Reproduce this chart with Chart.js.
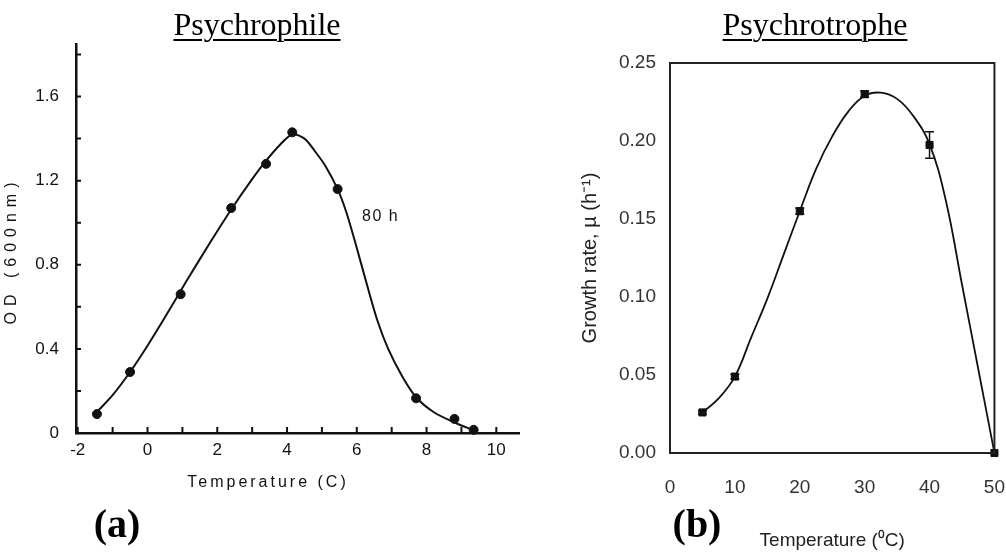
<!DOCTYPE html>
<html>
<head>
<meta charset="utf-8">
<script src="https://cdn.jsdelivr.net/npm/chart.js@4.4.1/dist/chart.umd.min.js"></script>
<style>
  body { margin: 0; background: #fff; width: 1006px; height: 552px; position: relative; overflow: hidden; }
  .panel { position: absolute; top: 0; height: 552px; }
  #leftPanel { left: 0; width: 525px; }
  #rightPanel { left: 500px; width: 528px; }
  .title { position: absolute; top: 8px; font: 32px "Liberation Serif", "Times New Roman", serif; line-height: 32px;
           text-decoration: underline; text-decoration-thickness: 2px; text-underline-offset: 4px;
           transform: translateX(-50%); white-space: nowrap; color: #000; }
  .tag { position: absolute; top: 504px; font: bold 40px "Liberation Serif", "Times New Roman", serif; line-height: 40px;
         transform: translateX(-50%); white-space: nowrap; color: #000; }
</style>
</head>
<body>
<div class="panel" id="leftPanel"><canvas id="leftChart"></canvas></div>
<div class="panel" id="rightPanel"><canvas id="rightChart"></canvas></div>
<div class="title" style="left:257px">Psychrophile</div>
<div class="title" style="left:815px">Psychrotrophe</div>
<div class="tag" style="left:117px">(a)</div>
<div class="tag" style="left:697px">(b)</div>

<script>
// (a) psychrophile, OD after 80 h
const leftTempPoints = [-1.45, -0.5, 0.95, 2.4, 3.4, 4.15, 5.45, 7.7, 8.8, 9.35];
const leftODPoints = [0.09, 0.29, 0.66, 1.07, 1.28, 1.43, 1.16, 0.165, 0.067, 0.015];
const leftCurveTemp = [-1.45, -1.0, -0.5, 0, 0.5, 1.1, 1.8, 2.4, 3.0, 3.4, 3.8, 4.15, 4.5, 4.8, 5.1, 5.45, 5.7, 6.0, 6.3, 6.6, 6.9, 7.3, 7.7, 8.2, 8.8, 9.4];
const leftCurveOD = [0.10, 0.18, 0.29, 0.415, 0.55, 0.718, 0.907, 1.063, 1.207, 1.295, 1.371, 1.42, 1.40, 1.34, 1.27, 1.16, 1.05, 0.88, 0.70, 0.53, 0.40, 0.27, 0.17, 0.10, 0.05, 0.01];

// (b) psychrotroph, growth rate
const rightTempPoints = [5, 10, 20, 30, 40, 50];
const rightRatePoints = [0.026, 0.049, 0.155, 0.230, 0.1975, 0.0];
const rightRateErr = [0.001, 0.0015, 0.002, 0.002, 0.0085, 0];
const rightCurveTemp = [5, 7.5, 10, 12.5, 15, 17.5, 20, 22.5, 25, 27.5, 30, 32.5, 35, 37.5, 40, 42.5, 45, 47.5, 50];
const rightCurveRate = [0.026, 0.035, 0.049, 0.074, 0.099, 0.127, 0.155, 0.182, 0.203, 0.219, 0.229, 0.231, 0.227, 0.216, 0.198, 0.162, 0.108, 0.054, 0.0];

const ink = "#111";
const sans = "'Liberation Sans', Arial, sans-serif";

function pairs(xs, ys) {
    return xs.map(function (x, i) {
        return { x: x, y: ys[i] };
    });
}

// short tick marks pointing into the plot, taken from the scale ticks
const innerTicks = {
    id: "innerTicks",
    afterDraw: function (chart) {
        var ctx = chart.ctx, area = chart.chartArea;
        var x = chart.scales.x, y = chart.scales.y;
        ctx.save();
        ctx.strokeStyle = ink;
        ctx.lineWidth = 2;
        ctx.beginPath();
        x.ticks.forEach(function (t) {
            var px = x.getPixelForValue(t.value);
            ctx.moveTo(px, area.bottom);
            ctx.lineTo(px, area.bottom - 6);
        });
        y.ticks.forEach(function (t) {
            var py = y.getPixelForValue(t.value);
            ctx.moveTo(area.left, py);
            ctx.lineTo(area.left + 5, py);
        });
        ctx.stroke();
        ctx.restore();
    },
};

// spaced-out axis titles and the "80 h" note of panel (a)
const leftText = {
    id: "leftText",
    afterDraw: function (chart) {
        var ctx = chart.ctx, area = chart.chartArea;
        var x = chart.scales.x, y = chart.scales.y;
        ctx.save();
        ctx.fillStyle = ink;
        ctx.textBaseline = "middle";

        ctx.font = "16px " + sans;
        ctx.letterSpacing = "3px";
        ctx.textAlign = "center";
        ctx.fillText("Temperature (C)", area.left + 192, area.bottom + 50);

        ctx.save();
        ctx.translate(12, (area.top + area.bottom) / 2 + 12);
        ctx.rotate(-Math.PI / 2);
        ctx.letterSpacing = "6px";
        ctx.fillText("OD (600nm)", 0, 0);
        ctx.restore();

        ctx.font = "16px " + sans;
        ctx.letterSpacing = "1.5px";
        ctx.textAlign = "left";
        ctx.fillText("80 h", x.getPixelForValue(6.15), y.getPixelForValue(1.03));
        ctx.restore();
    },
};

// closed frame and error bars of panel (b)
const frameAndErrors = {
    id: "frameAndErrors",
    afterDatasetsDraw: function (chart) {
        var ctx = chart.ctx, area = chart.chartArea;
        var x = chart.scales.x, y = chart.scales.y;
        ctx.save();
        ctx.strokeStyle = "#222";
        ctx.lineWidth = 2;
        ctx.strokeRect(area.left, area.top, area.right - area.left, area.bottom - area.top);

        ctx.lineWidth = 1.5;
        ctx.strokeStyle = ink;
        ctx.beginPath();
        rightTempPoints.forEach(function (t, i) {
            var e = rightRateErr[i];
            if (!e) return;
            var px = x.getPixelForValue(t);
            var hi = y.getPixelForValue(rightRatePoints[i] + e);
            var lo = y.getPixelForValue(rightRatePoints[i] - e);
            ctx.moveTo(px, hi);
            ctx.lineTo(px, lo);
            ctx.moveTo(px - 4.5, hi);
            ctx.lineTo(px + 4.5, hi);
            ctx.moveTo(px - 4.5, lo);
            ctx.lineTo(px + 4.5, lo);
        });
        ctx.stroke();
        ctx.restore();
    },
};

new Chart(document.getElementById("leftChart"), {
    type: "scatter",
    data: {
        datasets: [
            {
                data: pairs(leftCurveTemp, leftCurveOD),
                showLine: true,
                borderColor: ink,
                borderWidth: 2,
                pointRadius: 0,
                tension: 0.3,
            },
            {
                data: pairs(leftTempPoints, leftODPoints),
                pointRadius: 4.5,
                backgroundColor: ink,
                borderColor: ink,
                clip: false,
            },
        ],
    },
    options: {
        responsive: true,
        maintainAspectRatio: false,
        animation: false,
        layout: { padding: { left: 0, right: 6, top: 44, bottom: 0 } },
        plugins: { legend: { display: false }, tooltip: { enabled: false } },
        scales: {
            x: {
                type: "linear",
                min: -2.05,
                max: 10.65,
                afterFit: function (s) { s.height = 119; },
                grid: { display: false, drawTicks: false },
                border: { color: ink, width: 2.5 },
                ticks: {
                    stepSize: 1,
                    autoSkip: false,
                    includeBounds: false,
                    maxRotation: 0,
                    padding: 7,
                    color: ink,
                    font: { family: sans, size: 17 },
                    callback: function (v) {
                        return Math.round(v) % 2 === 0 ? String(v) : "";
                    },
                },
            },
            y: {
                type: "linear",
                min: 0,
                max: 1.85,
                afterFit: function (s) { s.width = 76; },
                grid: { display: false, drawTicks: false },
                border: { color: ink, width: 2.5 },
                ticks: {
                    stepSize: 0.2,
                    autoSkip: false,
                    includeBounds: false,
                    padding: 17,
                    color: ink,
                    font: { family: sans, size: 17 },
                    callback: function (v) {
                        var q = v / 0.4;
                        return Math.abs(q - Math.round(q)) < 1e-6 ? String(+v.toFixed(1)) : "";
                    },
                },
            },
        },
    },
    plugins: [innerTicks, leftText],
});

new Chart(document.getElementById("rightChart"), {
    type: "scatter",
    data: {
        datasets: [
            {
                data: pairs(rightCurveTemp, rightCurveRate),
                showLine: true,
                borderColor: ink,
                borderWidth: 1.8,
                pointRadius: 0,
                tension: 0.4,
            },
            {
                data: pairs(rightTempPoints, rightRatePoints),
                pointStyle: "rect",
                pointRadius: 5,
                backgroundColor: ink,
                borderColor: ink,
                clip: false,
            },
        ],
    },
    options: {
        responsive: true,
        maintainAspectRatio: false,
        animation: false,
        layout: { padding: { left: 78, right: 0, top: 63, bottom: 0 } },
        plugins: { legend: { display: false }, tooltip: { enabled: false } },
        scales: {
            x: {
                type: "linear",
                min: 0,
                max: 50,
                afterFit: function (s) { s.height = 99; },
                grid: { display: false, drawTicks: false },
                border: { color: "#222", width: 2 },
                ticks: {
                    stepSize: 10,
                    maxRotation: 0,
                    padding: 23,
                    color: "#333",
                    font: { family: sans, size: 19 },
                },
                title: {
                    display: true,
                    text: "Temperature (\u2070C)",
                    color: "#222",
                    font: { family: sans, size: 19 },
                    padding: { top: 0, bottom: 0 },
                },
            },
            y: {
                type: "linear",
                min: 0,
                max: 0.25,
                afterFit: function (s) { s.width = 92; },
                grid: { display: false, drawTicks: false },
                border: { color: "#222", width: 2 },
                ticks: {
                    stepSize: 0.05,
                    padding: 14,
                    color: "#333",
                    font: { family: sans, size: 19 },
                    callback: function (v) { return v.toFixed(2); },
                },
                title: {
                    display: true,
                    text: "Growth rate, \u00b5 (h\u207b\u00b9)",
                    color: "#222",
                    font: { family: sans, size: 20 },
                    padding: { top: 0, bottom: 0 },
                },
            },
        },
    },
    plugins: [frameAndErrors],
});
</script>
</body>
</html>
